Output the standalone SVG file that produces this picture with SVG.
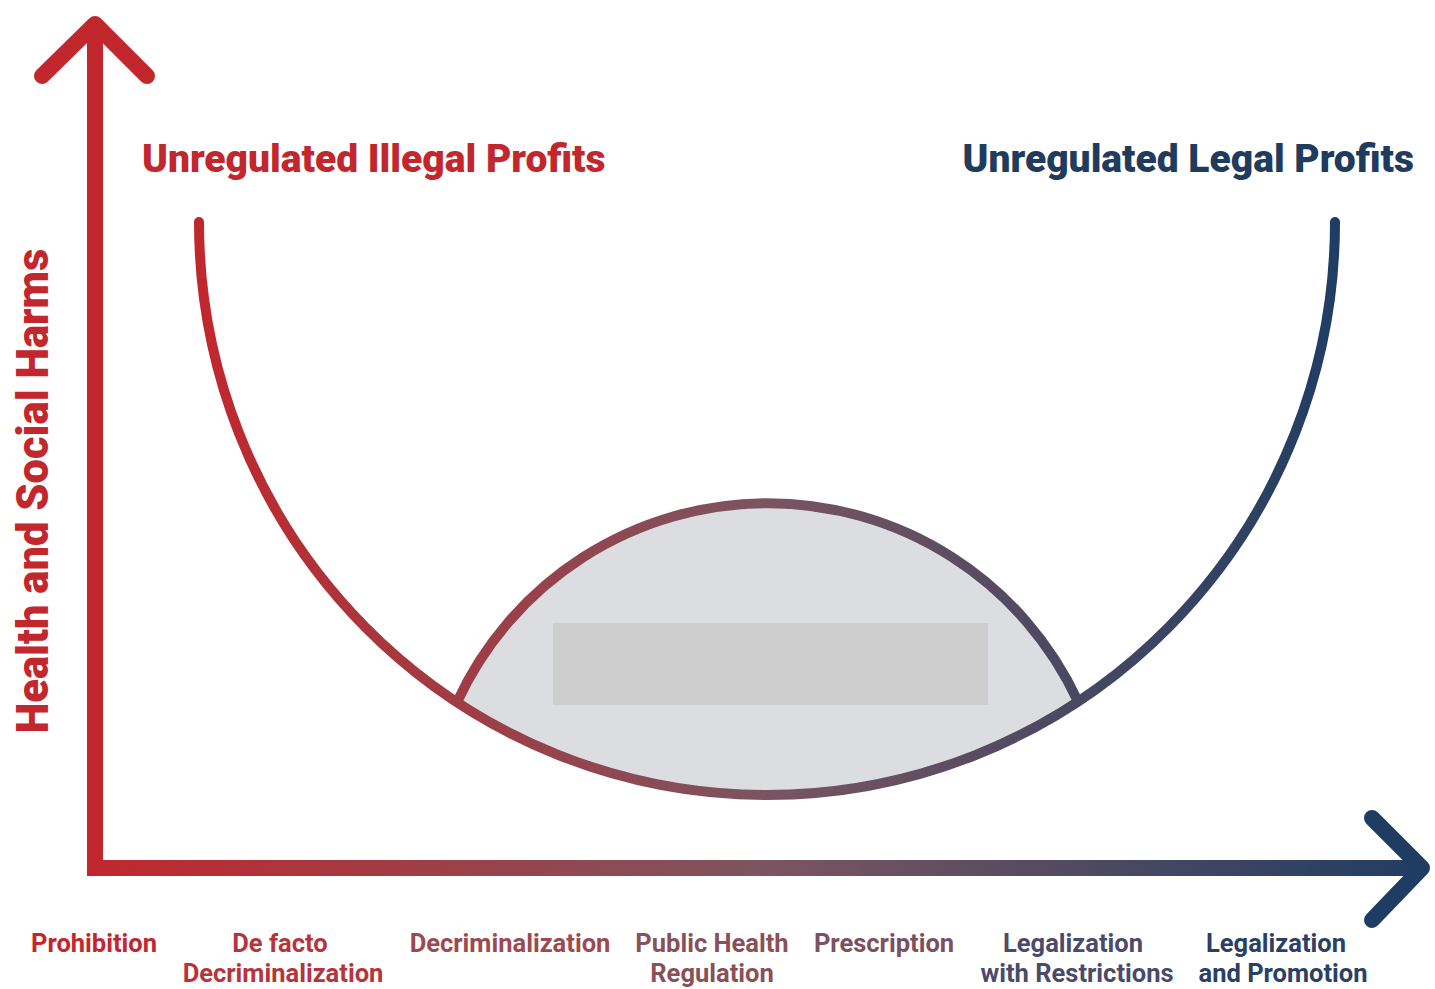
<svg xmlns="http://www.w3.org/2000/svg" width="1435" height="989" viewBox="0 0 1435 989">
<defs>
<linearGradient id="gx" gradientUnits="userSpaceOnUse" x1="87" y1="0" x2="1430" y2="0">
<stop offset="0" stop-color="#c1272d"/>
<stop offset="0.5" stop-color="#7d5560"/>
<stop offset="1" stop-color="#1f3d63"/>
</linearGradient>
<linearGradient id="gc" gradientUnits="userSpaceOnUse" x1="195" y1="0" x2="1340" y2="0">
<stop offset="0" stop-color="#c1272d"/>
<stop offset="0.5" stop-color="#7a5560"/>
<stop offset="1" stop-color="#1f3d63"/>
</linearGradient>
<style>
.lbl{font-family:Roboto,"Liberation Sans",sans-serif;font-weight:700;font-size:25.5px;text-anchor:middle}
.ttl{font-family:Roboto,"Liberation Sans",sans-serif;font-weight:900;font-size:39px}
.ax{fill:none;stroke-width:16;stroke-linejoin:round}
</style>
</defs>
<rect width="1435" height="989" fill="#ffffff"/>
<g id="dome">
<path d="M457,702.1 A342,342 0 0 1 1078,701.5 A568,573 0 0 1 457,702.1 Z" fill="#dcdde1"/>
<rect x="553" y="623" width="435" height="82" fill="#cfcecf"/>
<path d="M457,702.1 A342,342 0 0 1 1078,701.5" fill="none" stroke="url(#gc)" stroke-width="10"/>
</g>
<g id="curve">
<path d="M199,222 A568,573 0 0 0 1335,222" fill="none" stroke="url(#gc)" stroke-width="10" stroke-linecap="round"/>
</g>
<g id="connectors">
<path class="ax" d="M95,25 L95,876" stroke="#c1272d" style="stroke-linecap:butt"/>
<path class="ax" d="M42,76 L95,24 L147,76" stroke="#c1272d" style="stroke-linecap:round"/>
<path class="ax" d="M87,868 L1420,868" stroke="url(#gx)" style="stroke-linecap:butt"/>
<path class="ax" d="M1372,818 L1422,868 L1372,920" stroke="#1f3d63" style="stroke-linecap:round"/>
</g>
<g id="titles">
<text class="ttl" x="142" y="172" fill="#c1272d">Unregulated Illegal Profits</text>
<text class="ttl" x="1414" y="172" fill="#1f3b5e" text-anchor="end">Unregulated Legal Profits</text>
<text class="ttl" transform="translate(48,491) rotate(-90)" fill="#c1272d" text-anchor="middle" style="font-size:43.5px">Health and Social Harms</text>
</g>
<g id="labels">
<text class="lbl" x="94" y="952" fill="#c1272d">Prohibition</text>
<text class="lbl" x="282" y="952" fill="#b6353c"><tspan x="280" y="952">De facto</tspan><tspan x="283" y="982">Decriminalization</tspan></text>
<text class="lbl" x="510" y="952" fill="#9c4a50">Decriminalization</text>
<text class="lbl" x="712" y="952" fill="#8a5058"><tspan x="712" y="952">Public Health</tspan><tspan x="712" y="982">Regulation</tspan></text>
<text class="lbl" x="884" y="952" fill="#7b5060">Prescription</text>
<text class="lbl" x="1075" y="952" fill="#4a4a6a"><tspan x="1073" y="952">Legalization</tspan><tspan x="1077" y="982">with Restrictions</tspan></text>
<text class="lbl" x="1280" y="952" fill="#2a4065"><tspan x="1276" y="952">Legalization</tspan><tspan x="1283" y="982">and Promotion</tspan></text>
</g>
</svg>
